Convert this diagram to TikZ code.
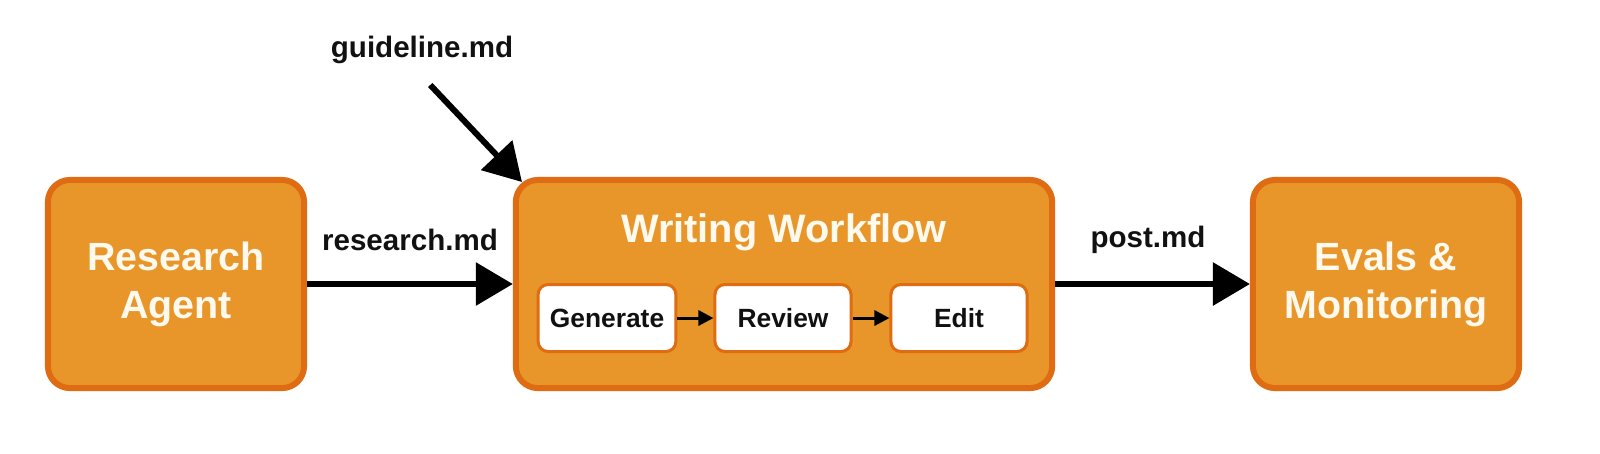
\documentclass[tikz,border=0pt]{standalone}
\usepackage{fontspec}
\setmainfont{Liberation Sans}
\usetikzlibrary{arrows.meta}
\definecolor{color_box_fill}{HTML}{E8962A}
\definecolor{color_box_border}{HTML}{DF6B12}
\definecolor{color_box_text}{HTML}{FFF9EE}
\definecolor{color_label_text}{HTML}{111111}
\def\boxborderwidth{0.06cm}
\def\stepborderwidth{0.03cm}
\def\boxcornerradius{0.22cm}
\def\stepcornerradius{0.1cm}
\tikzset{
    bigbox/.style={draw=color_box_border, fill=color_box_fill, line width=\boxborderwidth,
        rounded corners=\boxcornerradius, minimum height=2.08cm, align=center,
        text=color_box_text, font=\bfseries\fontsize{11.2}{13.6}\selectfont},
    stepbox/.style={draw=color_box_border, fill=white, line width=\stepborderwidth,
        rounded corners=\stepcornerradius, minimum height=0.67cm, minimum width=1.36cm,
        text=color_label_text, font=\bfseries\fontsize{7.5}{9}\selectfont},
    flowlabel/.style={text=color_label_text, font=\bfseries\fontsize{8.4}{10}\selectfont},
    bigarrow/.style={line width=0.06cm, -{Triangle[length=0.37cm, width=0.42cm]}},
    smallarrow/.style={line width=0.03cm, -{Triangle[length=0.15cm, width=0.15cm]}},
}

\begin{document}
\begin{tikzpicture}[x=0.01cm, y=-0.01cm]
    \useasboundingbox (0,0) rectangle (1600,453);
    % main stages
    \node[bigbox, minimum width=2.56cm] (research) at (176,284) {Research\\Agent};
    \node[bigbox, minimum width=5.36cm] (workflow) at (784,284) {};
    \node[bigbox, minimum width=2.66cm] (evals) at (1386,284) {Evals \&\\Monitoring};
    \node[text=color_box_text, font=\bfseries\fontsize{11.3}{13}\selectfont] (workflowtitle) at (784,232) {Writing Workflow};
    % steps inside the workflow
    \node[stepbox] (generate) at (607,318) {Generate};
    \node[stepbox] (review) at (783,318) {Review};
    \node[stepbox] (edit) at (959,318) {Edit};
    \draw[smallarrow] (generate) -- (review);
    \draw[smallarrow] (review) -- (edit);
    % files passed along
    \node[flowlabel] (guideline) at (422,50) {guideline.md};
    \node[flowlabel] (researchfile) at (410,240) {research.md};
    \node[flowlabel] (postfile) at (1148,240) {post.md};
    \coordinate (guidetip) at (522,182);
    \draw[bigarrow, shorten <=0.12cm] (guideline.south) -- (guidetip);
    \draw[bigarrow] (research) -- (workflow);
    \draw[bigarrow] (workflow) -- (evals);
\end{tikzpicture}
\end{document}
